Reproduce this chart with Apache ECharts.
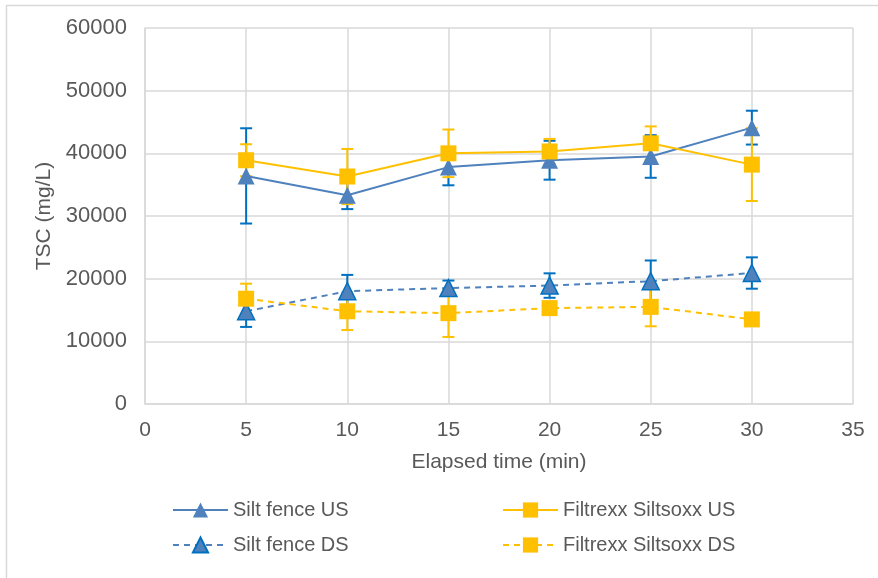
<!DOCTYPE html>
<html><head><meta charset="utf-8">
<script src="https://cdn.jsdelivr.net/npm/echarts@6/dist/echarts.min.js"></script>
<style>html,body{margin:0;padding:0;background:#fff}#c{width:878px;height:578px}</style>
</head><body><div id="c"></div>
<script>
var xs = [5, 10, 15, 20, 25, 30];
var sfUS = [36400, 33300, 37800, 38900, 39500, 44100];
var sfUSerr = [7600, 2200, 2900, 3100, 3400, 2700];
var fxUS = [38900, 36300, 40000, 40300, 41600, 38200];
var fxUSerr = [2550, 4400, 3800, 2000, 2700, 5800];
var sfDS = [14800, 18000, 18500, 18900, 19600, 20900];
var sfDSerr = [2500, 2600, 1200, 1950, 3300, 2500];
var fxDS = [16800, 14800, 14500, 15300, 15500, 13500];
var fxDSerr = [2400, 3000, 3800, 1000, 3100, 500];
var yTicks = [0, 10000, 20000, 30000, 40000, 50000, 60000];
var xTicks = [0, 5, 10, 15, 20, 25, 30, 35];

var BLUE = '#4f81bd', ERRBLUE = '#0070c0', YEL = '#ffc000', TXT = '#595959', GRID = '#d9d9d9';
var FONT = '"Liberation Sans", Arial, sans-serif';

function pairs(v) { return xs.map(function (x, i) { return [x, v[i]]; }); }
function errSeries(v, e, color) {
  return {
    type: 'custom', z: 1, silent: true,
    data: xs.map(function (x, i) { return [x, v[i] - e[i], v[i] + e[i]]; }),
    encode: { x: 0, y: [1, 2] },
    renderItem: function (params, api) {
      var lo = api.coord([api.value(0), api.value(1)]);
      var hi = api.coord([api.value(0), api.value(2)]);
      var hw = 6;
      var st = { stroke: color, lineWidth: 2, fill: null };
      return { type: 'group', children: [
        { type: 'line', shape: { x1: lo[0], y1: lo[1], x2: hi[0], y2: hi[1] }, style: st },
        { type: 'line', shape: { x1: lo[0] - hw, y1: lo[1], x2: lo[0] + hw, y2: lo[1] }, style: st },
        { type: 'line', shape: { x1: hi[0] - hw, y1: hi[1], x2: hi[0] + hw, y2: hi[1] }, style: st }
      ] };
    }
  };
}
function lineSeries(name, v, color, dashed, symbol, border) {
  return {
    name: name, type: 'line', z: 3, data: pairs(v), symbol: symbol,
    symbolSize: symbol === 'triangle' ? 17 : 16,
    lineStyle: { color: color, width: 2, type: dashed ? [6, 5] : 'solid' },
    itemStyle: { color: color, borderColor: border || color, borderWidth: border ? 1.5 : 0 }
  };
}

var chart = echarts.init(document.getElementById('c'), null, { renderer: 'canvas' });
chart.setOption({
  animation: false,
  textStyle: { fontFamily: FONT },
  graphic: [{ type: 'rect', shape: { x: 6.5, y: 5.5, width: 1000, height: 1000 },
    style: { fill: null, stroke: GRID, lineWidth: 1.5 }, silent: true }],
  grid: { left: 145, right: 25, top: 28, bottom: 174 },
  xAxis: {
    type: 'value', min: xTicks[0], max: xTicks[xTicks.length - 1], interval: 5,
    name: 'Elapsed time (min)', nameLocation: 'middle', nameGap: 48,
    nameTextStyle: { color: TXT, fontSize: 21, fontFamily: FONT },
    axisLine: { show: true, lineStyle: { color: GRID, width: 1.5 } },
    axisTick: { show: false },
    axisLabel: { color: TXT, fontSize: 21, margin: 16, fontFamily: FONT },
    splitLine: { show: true, lineStyle: { color: GRID, width: 1.5 } }
  },
  yAxis: {
    type: 'value', min: yTicks[0], max: yTicks[yTicks.length - 1], interval: 10000,
    name: 'TSC (mg/L)', nameLocation: 'middle', nameGap: 90, nameRotate: 90,
    nameTextStyle: { color: TXT, fontSize: 21, fontFamily: FONT },
    axisLine: { show: true, lineStyle: { color: GRID, width: 1.5 } },
    axisTick: { show: false },
    axisLabel: { color: TXT, fontSize: 22, margin: 18, fontFamily: FONT,
      formatter: function (v) { return String(v); } },
    splitLine: { show: true, lineStyle: { color: GRID, width: 1.5 } }
  },
  legend: [
    { left: 167, top: 495, orient: 'vertical', itemWidth: 55, itemHeight: 19, itemGap: 15,
      textStyle: { color: TXT, fontSize: 20, fontFamily: FONT },
      data: ['Silt fence US', 'Silt fence DS'] },
    { left: 497, top: 495, orient: 'vertical', itemWidth: 55, itemHeight: 19, itemGap: 15,
      textStyle: { color: TXT, fontSize: 20, fontFamily: FONT },
      data: ['Filtrexx Siltsoxx US', 'Filtrexx Siltsoxx DS'] }
  ],
  series: [
    errSeries(sfUS, sfUSerr, ERRBLUE),
    errSeries(fxUS, fxUSerr, YEL),
    errSeries(sfDS, sfDSerr, ERRBLUE),
    errSeries(fxDS, fxDSerr, YEL),
    lineSeries('Silt fence US', sfUS, BLUE, false, 'triangle'),
    lineSeries('Filtrexx Siltsoxx US', fxUS, YEL, false, 'rect'),
    lineSeries('Silt fence DS', sfDS, BLUE, true, 'triangle', ERRBLUE),
    lineSeries('Filtrexx Siltsoxx DS', fxDS, YEL, true, 'rect')
  ]
});
</script></body></html>
